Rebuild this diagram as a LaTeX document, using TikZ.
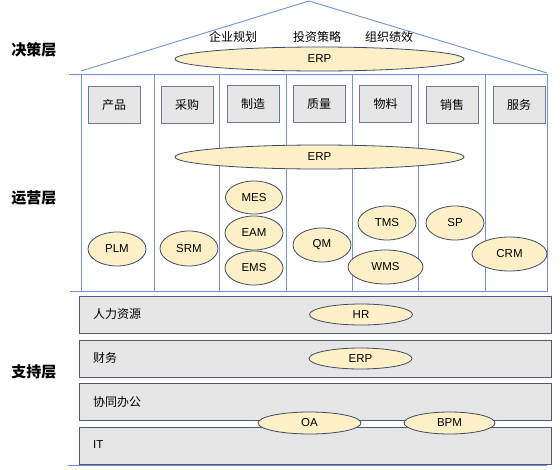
\documentclass[tikz,border=0pt]{standalone}
\usepackage{fontspec}
\setmainfont{Liberation Sans}
\newfontfamily\cjk{Noto Sans CJK SC}
\usetikzlibrary{shapes.geometric}
\definecolor{lineblue}{HTML}{7093DB}
\definecolor{ellfill}{HTML}{FDF0C6}
\definecolor{elldraw}{HTML}{3E4A66}
\definecolor{boxfill}{HTML}{E6E6E6}
\definecolor{boxdraw}{HTML}{6D7A8F}
\definecolor{bardraw}{HTML}{4E5A72}
\begin{document}
\begin{tikzpicture}[x=1pt,y=-1pt,
  blue line/.style={draw=lineblue,line width=0.9pt},
  sys/.style={ellipse,draw=elldraw,fill=ellfill,line width=0.8pt,inner sep=0pt,font=\fontsize{11.5}{12}\selectfont},
  func/.style={rectangle,draw=boxdraw,fill=boxfill,line width=0.9pt,minimum width=52pt,minimum height=37pt,inner sep=0pt,font=\cjk\fontsize{12}{13}\selectfont},
  bar/.style={rectangle,draw=bardraw,fill=boxfill,line width=0.8pt,minimum width=472pt,minimum height=37pt,inner sep=0pt},
  layer/.style={font=\cjk\bfseries\fontsize{15}{16}\selectfont,text=black},
  lbl/.style={font=\cjk\fontsize{12}{13}\selectfont,anchor=west,inner sep=0pt},
  toplbl/.style={font=\cjk\fontsize{12}{13}\selectfont,inner sep=0pt}
]
\useasboundingbox (0,0) rectangle (560,469);
% roof
\coordinate (apex) at (309,1);
\coordinate (roofL) at (81,71);
\coordinate (roofR) at (547,73);
\draw[blue line] (roofL) -- (apex) -- (roofR);
\coordinate (baseL) at (69,74.5);
\coordinate (baseR) at (548,74.5);
\draw[blue line] (baseL) -- (baseR);
\coordinate (botL) at (70,291);
\coordinate (botR) at (548,291);
% columns
\foreach \x/\n in {81/a,154/b,219/c,286/d,352/e,418/f,485/g,547/h}{
  \coordinate (ct\n) at (\x,74.5);
  \coordinate (cb\n) at (\x,291);
  \draw[blue line] (ct\n) -- (cb\n);
}
\draw[blue line] (botL) -- (botR);
% top texts
\node[toplbl] (t1) at (233,37) {企业规划};
\node[toplbl] (t2) at (317,37) {投资策略};
\node[toplbl] (t3) at (389,37) {组织绩效};
\node[sys,minimum width=289pt,minimum height=24pt] (erp1) at (319.5,59) {ERP};
% function boxes
\node[func] (f1) at (114,105) {产品};
\node[func] (f2) at (187,105) {采购};
\node[func] (f3) at (253,104) {制造};
\node[func] (f4) at (319,104) {质量};
\node[func] (f5) at (385.5,103.5) {物料};
\node[func] (f6) at (452,105) {销售};
\node[func] (f7) at (519,105) {服务};
\node[sys,minimum width=289pt,minimum height=24pt] (erp2) at (319.5,157) {ERP};
% systems
\node[sys,minimum width=57pt,minimum height=33pt] (mes) at (254,197.5) {MES};
\node[sys,minimum width=58pt,minimum height=34pt] (eam) at (254,233) {EAM};
\node[sys,minimum width=58pt,minimum height=34pt] (ems) at (254,268) {EMS};
\node[sys,minimum width=58pt,minimum height=34pt] (plm) at (117,249) {PLM};
\node[sys,minimum width=58pt,minimum height=35pt] (srm) at (189,248.5) {SRM};
\node[sys,minimum width=58pt,minimum height=34pt] (qm) at (322,245) {QM};
\node[sys,minimum width=58pt,minimum height=34pt] (tms) at (387,223) {TMS};
\node[sys,minimum width=75pt,minimum height=34pt] (wms) at (385.5,267) {WMS};
\node[sys,minimum width=58pt,minimum height=34pt] (sp) at (455,223) {SP};
\node[sys,minimum width=75pt,minimum height=34pt] (crm) at (509.5,254) {CRM};
% layer labels
\node[layer] (l1) at (34,50) {决策层};
\node[layer] (l2) at (34,198) {运营层};
\node[layer] (l3) at (34,372) {支持层};
% support bars
\node[bar] (b1) at (315,314.5) {};
\node[bar] (b2) at (315,358.5) {};
\node[bar] (b3) at (315,402) {};
\node[bar] (b4) at (315,446) {};
\node[lbl] (bl1) at (93,314) {人力资源};
\node[lbl] (bl2) at (93,358) {财务};
\node[lbl] (bl3) at (93,402) {协同办公};
\node[lbl,font=\fontsize{11.5}{12}\selectfont] (bl4) at (93,445) {IT};
\coordinate (sbL) at (68,465);
\coordinate (sbR) at (547,465);
\draw[blue line] (sbL) -- (sbR);
\node[sys,minimum width=103pt,minimum height=21pt] (hr) at (361,314.5) {HR};
\node[sys,minimum width=103pt,minimum height=21pt] (erp3) at (360.5,358.5) {ERP};
\node[sys,minimum width=103pt,minimum height=22pt] (oa) at (309.5,423) {OA};
\node[sys,minimum width=91pt,minimum height=22pt] (bpm) at (449.5,423) {BPM};
\end{tikzpicture}
\end{document}
